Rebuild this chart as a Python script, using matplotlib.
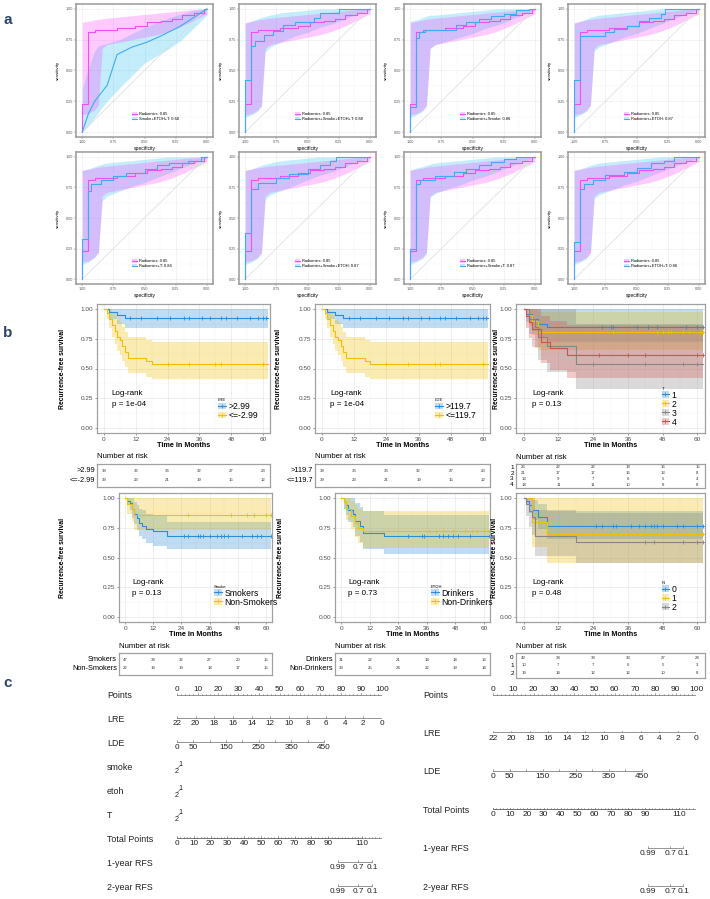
import numpy as np
import matplotlib.pyplot as plt
from matplotlib.patches import Patch
from matplotlib.lines import Line2D

plt.rcParams['font.family'] = ['Liberation Sans', 'DejaVu Sans']

W, H = 710, 899

# ---------------- panel a : ROC data (specificity, sensitivity) ----------------
band_spec = [1.00, 0.95, 0.90, 0.87, 0.84, 0.80, 0.70, 0.60, 0.50, 0.40, 0.30, 0.20, 0.10, 0.00]

rad_name = "Radiomics: 0.85"
rad_curve = [(1.0, 0.0), (0.955, 0.23), (0.90, 0.81), (0.72, 0.83), (0.58, 0.845), (0.48, 0.865),
             (0.37, 0.89), (0.28, 0.90), (0.20, 0.92), (0.10, 0.95), (0.02, 0.97), (0.0, 1.0)]
rad_lo = [0.14, 0.15, 0.18, 0.22, 0.68, 0.71, 0.73, 0.75, 0.77, 0.79, 0.82, 0.86, 0.91, 0.96]
rad_hi = [0.89, 0.90, 0.91, 0.915, 0.92, 0.925, 0.935, 0.945, 0.955, 0.965, 0.975, 0.985, 0.995, 1.0]

cmp_names = ["Smoke+ETOH+T: 0.68", "Radiomics+Smoke+ETOH+T: 0.88", "Radiomics+Smoke: 0.86",
             "Radiomics+ETOH: 0.87", "Radiomics+T: 0.86", "Radiomics+Smoke+ETOH: 0.87",
             "Radiomics+Smoke+T: 0.87", "Radiomics+ETOH+T: 0.86"]
cmp_stepped = [False, True, True, True, True, True, True, True]

cmp1_curve = [(1.0, 0.0), (0.95, 0.15), (0.90, 0.25), (0.80, 0.38), (0.72, 0.63), (0.60, 0.69),
              (0.48, 0.73), (0.37, 0.78), (0.23, 0.85), (0.15, 0.90), (0.0, 1.0)]
cmp2_curve = [(1.0, 0.0), (0.955, 0.42), (0.92, 0.70), (0.85, 0.74), (0.78, 0.79), (0.70, 0.82),
              (0.60, 0.87), (0.45, 0.89), (0.40, 0.93), (0.25, 0.97), (0.0, 1.0)]
cmp3_curve = [(1.0, 0.0), (0.955, 0.20), (0.93, 0.76), (0.88, 0.81), (0.63, 0.83), (0.55, 0.87),
              (0.45, 0.89), (0.35, 0.92), (0.25, 0.94), (0.15, 0.96), (0.05, 0.99), (0.0, 1.0)]
cmp4_curve = [(1.0, 0.0), (0.955, 0.42), (0.75, 0.78), (0.68, 0.81), (0.58, 0.84), (0.48, 0.86),
              (0.40, 0.90), (0.30, 0.93), (0.27, 0.96), (0.0, 1.0)]
cmp5_curve = [(1.0, 0.0), (0.955, 0.33), (0.93, 0.72), (0.85, 0.78), (0.75, 0.81), (0.65, 0.84),
              (0.50, 0.87), (0.40, 0.90), (0.30, 0.93), (0.15, 0.95), (0.05, 0.97), (0.0, 1.0)]
cmp6_curve = [(1.0, 0.0), (0.955, 0.38), (0.90, 0.74), (0.75, 0.79), (0.65, 0.83), (0.50, 0.86),
              (0.40, 0.90), (0.32, 0.93), (0.27, 0.97), (0.0, 1.0)]
cmp7_curve = [(1.0, 0.0), (0.955, 0.25), (0.92, 0.78), (0.80, 0.81), (0.65, 0.84), (0.55, 0.88),
              (0.45, 0.90), (0.35, 0.93), (0.25, 0.96), (0.15, 0.98), (0.0, 1.0)]
cmp8_curve = [(1.0, 0.0), (0.955, 0.30), (0.92, 0.74), (0.85, 0.78), (0.75, 0.81), (0.60, 0.85),
              (0.50, 0.88), (0.38, 0.91), (0.28, 0.95), (0.20, 0.97), (0.0, 1.0)]

cmp1_lo = [0.00, 0.05, 0.12, 0.16, 0.20, 0.25, 0.36, 0.46, 0.56, 0.62, 0.68, 0.75, 0.85, 0.95]
cmp1_hi = [0.35, 0.52, 0.66, 0.70, 0.71, 0.72, 0.75, 0.80, 0.85, 0.89, 0.93, 0.96, 0.99, 1.00]
cmp2_lo = [0.12, 0.14, 0.17, 0.21, 0.65, 0.69, 0.74, 0.78, 0.81, 0.85, 0.88, 0.92, 0.96, 0.99]
cmp2_hi = [0.88, 0.90, 0.92, 0.93, 0.94, 0.95, 0.97, 0.98, 0.99, 1.0, 1.0, 1.0, 1.0, 1.0]
cmp3_lo = [0.12, 0.14, 0.17, 0.21, 0.68, 0.71, 0.74, 0.77, 0.80, 0.84, 0.87, 0.91, 0.95, 0.99]
cmp3_hi = [0.90, 0.91, 0.93, 0.94, 0.95, 0.95, 0.96, 0.97, 0.98, 0.99, 1.0, 1.0, 1.0, 1.0]
cmp4_lo = [0.12, 0.14, 0.17, 0.22, 0.66, 0.69, 0.73, 0.77, 0.80, 0.84, 0.88, 0.92, 0.96, 0.99]
cmp4_hi = [0.88, 0.90, 0.92, 0.93, 0.94, 0.95, 0.96, 0.97, 0.98, 0.99, 1.0, 1.0, 1.0, 1.0]
cmp5_lo = [0.12, 0.14, 0.18, 0.22, 0.64, 0.68, 0.72, 0.76, 0.79, 0.83, 0.87, 0.91, 0.95, 0.99]
cmp5_hi = [0.89, 0.90, 0.92, 0.93, 0.94, 0.95, 0.96, 0.97, 0.98, 0.99, 1.0, 1.0, 1.0, 1.0]
cmp6_lo = [0.12, 0.14, 0.17, 0.21, 0.65, 0.69, 0.73, 0.77, 0.81, 0.85, 0.88, 0.92, 0.96, 0.99]
cmp6_hi = [0.89, 0.90, 0.92, 0.93, 0.94, 0.95, 0.97, 0.98, 0.99, 1.0, 1.0, 1.0, 1.0, 1.0]
cmp7_lo = [0.12, 0.14, 0.17, 0.21, 0.67, 0.70, 0.74, 0.77, 0.81, 0.84, 0.88, 0.92, 0.96, 0.99]
cmp7_hi = [0.89, 0.91, 0.92, 0.93, 0.94, 0.95, 0.96, 0.97, 0.98, 0.99, 1.0, 1.0, 1.0, 1.0]
cmp8_lo = [0.12, 0.14, 0.17, 0.21, 0.66, 0.69, 0.73, 0.77, 0.80, 0.84, 0.88, 0.92, 0.96, 0.99]
cmp8_hi = [0.89, 0.90, 0.92, 0.93, 0.94, 0.95, 0.96, 0.97, 0.98, 0.99, 1.0, 1.0, 1.0, 1.0]

cmp_curves = [cmp1_curve, cmp2_curve, cmp3_curve, cmp4_curve, cmp5_curve, cmp6_curve, cmp7_curve, cmp8_curve]
cmp_los = [cmp1_lo, cmp2_lo, cmp3_lo, cmp4_lo, cmp5_lo, cmp6_lo, cmp7_lo, cmp8_lo]
cmp_his = [cmp1_hi, cmp2_hi, cmp3_hi, cmp4_hi, cmp5_hi, cmp6_hi, cmp7_hi, cmp8_hi]

# ---------------- panel b : Kaplan-Meier data ----------------
# each group: step times, survival, lower CI, upper CI, censor times
lre_hi = ([0, 2, 5, 8], [1.0, 0.974, 0.949, 0.923], [1.0, 0.92, 0.88, 0.84], [1, 1, 1, 1],
          [10, 14, 20, 25, 30, 32, 37, 40, 44, 46, 50, 55, 58, 60, 61])
lre_lo = ([0, 1, 2, 3, 4, 5, 6, 7, 8, 9, 16, 18],
          [1, .97, .92, .87, .82, .77, .74, .69, .64, .59, .56, .54],
          [1, .92, .84, .77, .71, .65, .61, .56, .51, .46, .43, .41],
          [1, 1, 1, .98, .95, .91, .89, .85, .81, .77, .74, .72],
          [24, 32, 42, 44, 60])
lde_hi = ([0, 2, 5, 8], [1.0, 0.974, 0.949, 0.923], [1.0, 0.92, 0.88, 0.84], [1, 1, 1, 1],
          [10, 14, 20, 25, 30, 32, 37, 40, 44, 46, 50, 55, 58, 60, 61])
lde_lo = ([0, 1, 2, 3, 4, 5, 6, 7, 8, 9, 16, 18],
          [1, .97, .92, .87, .82, .77, .74, .69, .64, .59, .56, .54],
          [1, .92, .84, .77, .71, .65, .61, .56, .51, .46, .43, .41],
          [1, 1, 1, .98, .95, .91, .89, .85, .81, .77, .74, .72],
          [24, 32, 42, 44, 60])
t1 = ([0, 1, 3, 5, 8], [1, .96, .92, .88, .85], [1, .89, .82, .76, .72], [1, 1, 1, 1, 1],
      [27, 30, 31, 39, 43, 46, 56, 60, 62])
t2 = ([0, 2, 3, 5], [1, .95, .90, .81], [1, .86, .78, .66], [1, 1, 1, .98],
      [31, 46, 48, 50, 51, 55, 57, 61, 62])
t3 = ([0, 2, 4, 5, 8, 18], [1, .92, .85, .77, .69, .54], [1, .79, .67, .57, .47, .33],
      [1, 1, 1, 1, 1, .88], [24, 42, 55, 60])
t4 = ([0, 1, 2, 3, 6, 9, 15], [1, .94, .89, .83, .72, .67, .61], [1, .84, .76, .68, .55, .49, .42],
      [1, 1, 1, 1, .94, .9, .87], [26, 36, 42, 60, 62])
smokers = ([0, 1, 2, 3, 4, 5, 6, 7, 9, 12, 18],
           [1, .98, .96, .91, .87, .83, .79, .77, .74, .72, .68],
           [1, .94, .90, .83, .78, .73, .68, .66, .62, .60, .57],
           [1, 1, 1, 1, .97, .94, .91, .90, .87, .85, .80],
           [25, 27, 31, 32, 33, 36, 39, 41, 42, 44, 50, 54, 56, 58, 62])
non_smokers = ([0, 1, 3, 4], [1, .95, .91, .86], [1, .87, .80, .73], [1, 1, 1, 1],
               [27, 45, 52, 55, 60, 62])
drinkers = ([0, 1, 2, 3, 5, 6, 8, 9, 18], [1, .97, .94, .90, .87, .81, .77, .71, .68],
            [1, .91, .86, .80, .76, .68, .63, .57, .53], [1, 1, 1, 1, 1, .96, .93, .89, .86],
            [28, 34, 35, 41, 43, 45, 47, 49, 54, 62])
non_drinkers = ([0, 1, 2, 4, 6, 7, 9], [1, .97, .91, .85, .79, .75, .72],
                [1, .91, .82, .74, .67, .62, .58], [1, 1, 1, .98, .94, .91, .89],
                [37, 40, 43, 47, 52, 55, 57, 60, 62])
n0 = ([0, 1, 2, 3, 5, 8], [1, .98, .94, .90, .84, .77], [1, .94, .88, .82, .74, .66],
      [1, 1, 1, .99, .95, .89], [25, 27, 31, 32, 37, 40, 42, 44, 45, 46, 48, 53, 55, 60, 62])
n1 = ([0, 3, 8], [1, .8, .70], [1, .59, .45], [1, 1, 1], [32, 41, 50, 57, 62])
n2 = ([0, 1, 2, 3, 4, 18], [1, .95, .89, .84, .68, .63], [1, .85, .76, .69, .51, .45],
      [1, 1, 1, 1, .9, .88], [42, 45, 55, 60, 62])

km_titles = ["LRE", "LDE", "T", "Smoke", "ETOH", "N"]
km_groups = [[lre_hi, lre_lo], [lde_hi, lde_lo], [t1, t2, t3, t4],
             [smokers, non_smokers], [drinkers, non_drinkers], [n0, n1, n2]]
km_labels = [[">2.99", "<=-2.99"], [">119.7", "<=119.7"], ["1", "2", "3", "4"],
             ["Smokers", "Non-Smokers"], ["Drinkers", "Non-Drinkers"], ["0", "1", "2"]]
km_pvals = ["p = 1e-04", "p = 1e-04", "p = 0.13", "p = 0.13", "p = 0.73", "p = 0.48"]

risk_times = [0, 12, 24, 36, 48, 60]
risk_lre = [[39, 36, 36, 32, 27, 23], [39, 23, 21, 19, 15, 12]]
risk_lde = [[39, 36, 36, 32, 27, 23], [39, 23, 21, 19, 15, 12]]
risk_t = [[26, 22, 22, 19, 16, 15], [21, 17, 17, 16, 13, 8], [13, 9, 7, 6, 5, 4], [18, 11, 11, 10, 8, 8]]
risk_smoke = [[47, 34, 32, 27, 20, 15], [22, 19, 19, 18, 17, 15]]
risk_etoh = [[31, 22, 21, 18, 14, 13], [33, 25, 24, 22, 19, 14]]
risk_n = [[49, 38, 38, 33, 27, 24], [10, 7, 7, 6, 5, 3], [19, 14, 12, 12, 10, 8]]
km_risk = [risk_lre, risk_lde, risk_t, risk_smoke, risk_etoh, risk_n]

# ---------------- panel c : nomogram scales ----------------
points_ticks = list(range(0, 101, 10))
lre_vals = list(range(22, -1, -2))
lde_vals = list(range(0, 451, 50))
lde_shown = [0, 50, 150, 250, 350, 450]
total_ticks = [0, 10, 20, 30, 40, 50, 60, 70, 80, 90, 110]
rfs_probs = ["0.99", "0.7", "0.1"]
rfs_total_left = [95.8, 107.7, 116.0]
rfs_total_right = [91.7, 104.7, 112.4]

# ---------------- drawing ----------------
fig = plt.figure(figsize=(W / 100, H / 100), dpi=100)


def box(l, t, r, b):
    return [l / W, 1 - b / H, (r - l) / W, (b - t) / H]


label_col = '#2E4566'
for txt, y in [('a', 20), ('b', 333), ('c', 683)]:
    fig.text(8 / W, 1 - y / H, txt, fontsize=11, fontweight='bold', color=label_col, ha='center', va='center')

# ---- ROC ----
roc_cols = [76, 239, 404, 568]
roc_rows = [(4, 137), (152, 284)]
mag, mag_f = '#F050F0', '#FF40FF'
cy, cy_f = '#40AAF2', '#3CC4F5'
a_mag, a_cy = 0.27, 0.30
for k in range(8):
    r, c = divmod(k, 4)
    ax = fig.add_axes(box(roc_cols[c], roc_rows[r][0], roc_cols[c] + 137, roc_rows[r][1]))
    ax.fill_between(band_spec, cmp_los[k], cmp_his[k], color=cy_f, alpha=a_cy, lw=0)
    ax.fill_between(band_spec, rad_lo, rad_hi, color=mag_f, alpha=a_mag, lw=0)
    ax.plot([1, 0], [0, 1], color='#DCDCDC', lw=0.5)
    rs, rv = zip(*rad_curve)
    ax.plot(rs, rv, drawstyle='steps-pre', color=mag, lw=0.8)
    cs, cv = zip(*cmp_curves[k])
    ax.plot(cs, cv, drawstyle='steps-pre' if cmp_stepped[k] else 'default', color=cy, lw=0.8)
    ax.set_xlim(1.05, -0.05)
    ax.set_ylim(-0.04, 1.04)
    ticks = [1.0, 0.75, 0.5, 0.25, 0.0]
    ax.set_xticks(ticks)
    ax.set_xticklabels(['%.2f' % t for t in ticks])
    ax.set_yticks(ticks)
    ax.set_yticklabels(['%.2f' % t for t in ticks])
    ax.set_xticks([0.875, 0.625, 0.375, 0.125], minor=True)
    ax.set_yticks([0.875, 0.625, 0.375, 0.125], minor=True)
    ax.grid(which='major', color='#EBEBEB', lw=0.4)
    ax.grid(which='minor', color='#F4F4F4', lw=0.3)
    ax.set_axisbelow(True)
    ax.tick_params(labelsize=2.7, length=1.2, width=0.3, pad=1, colors='#555555')
    ax.tick_params(which='minor', length=0)
    for s in ax.spines.values():
        s.set_color('#9A9A9A')
        s.set_linewidth(1.1)
    ax.text(0.5, -0.085, 'specificity', transform=ax.transAxes, ha='center', va='center', fontsize=3.6)
    ax.text(-0.13, 0.5, 'sensitivity', transform=ax.transAxes, ha='center', va='center',
            rotation=90, fontsize=3.2)
    hs = [(Patch(facecolor=mag_f, alpha=a_mag, lw=0), Line2D([], [], color=mag, lw=0.8)),
          (Patch(facecolor=cy_f, alpha=a_cy, lw=0), Line2D([], [], color=cy, lw=0.8))]
    ax.legend(hs, [rad_name, cmp_names[k]], loc='lower left', bbox_to_anchor=(0.41, 0.12),
              frameon=False, fontsize=2.9, handlelength=1.3, handleheight=0.9,
              handletextpad=0.4, labelspacing=0.15, borderpad=0, borderaxespad=0)

# ---- Kaplan-Meier ----
km_boxes = [(97, 304, 270, 433), (315, 304, 490, 433), (516, 304, 705, 433),
            (119, 493, 272, 622), (335, 493, 490, 622), (516, 493, 705, 622)]
tab_boxes = [(97, 464, 270, 487), (315, 464, 490, 487), (516, 464, 705, 488),
             (119, 653, 272, 675), (335, 653, 490, 675), (516, 653, 705, 678)]
ylab_x = [62, 278, 496, 62, 280, 495]
leg_anchor = [(0.70, 0.10), (0.685, 0.10), (0.77, 0.05), (0.62, 0.12), (0.62, 0.12), (0.77, 0.08)]
pal = ['#2E8BD6', '#EFC000', '#868686', '#CD534C']
t_end = 62
xl = (-2.6, 62.6)

for i in range(6):
    l, t, rr, b = km_boxes[i]
    ax = fig.add_axes(box(l, t, rr, b))
    handles = []
    for g, grp in enumerate(km_groups[i]):
        times, surv, lo, hi, cens = grp
        col = pal[g]
        tx = list(times) + [t_end]
        ax.fill_between(tx, list(lo) + [lo[-1]], list(hi) + [hi[-1]], step='post',
                        color=col, alpha=0.3, lw=0)
        ax.step(tx, list(surv) + [surv[-1]], where='post', color=col, lw=0.8)
        idx = np.searchsorted(times, cens, side='right') - 1
        ax.plot(cens, np.array(surv)[idx], '+', color=col, ms=2.6, mew=0.6)
        handles.append((Patch(facecolor=col, alpha=0.3, lw=0),
                        Line2D([], [], color=col, lw=0.8, marker='+', ms=3, mew=0.6)))
    ax.set_xlim(*xl)
    ax.set_ylim(-0.045, 1.045)
    ax.set_xticks(risk_times)
    ax.set_yticks([0, 0.25, 0.5, 0.75, 1.0])
    ax.set_yticklabels(['0.00', '0.25', '0.50', '0.75', '1.00'])
    ax.set_xticks([6, 18, 30, 42, 54], minor=True)
    ax.set_yticks([0.125, 0.375, 0.625, 0.875], minor=True)
    ax.grid(which='major', color='#E6E6E6', lw=0.45)
    ax.grid(which='minor', color='#F2F2F2', lw=0.3)
    ax.set_axisbelow(True)
    ax.tick_params(labelsize=4.6, length=1.5, width=0.4, pad=1.2, colors='#4D4D4D')
    ax.tick_params(which='minor', length=0)
    for s in ax.spines.values():
        s.set_color('#A0A0A0')
        s.set_linewidth(0.9)
    hgt = b - t
    ax.text(0.5, -(13) / hgt, 'Time in Months', transform=ax.transAxes, ha='center', va='center',
            fontsize=5.2, fontweight='bold')
    ax.text((ylab_x[i] - l) / (rr - l), 0.5, 'Recurrence-free survival', transform=ax.transAxes,
            ha='center', va='center', rotation=90, fontsize=4.9, fontweight='bold')
    ax.text(3, 0.29, 'Log-rank', ha='left', va='center', fontsize=5.8)
    ax.text(3, 0.20, km_pvals[i], ha='left', va='center', fontsize=5.8)
    ax.legend(handles, km_labels[i], title=km_titles[i], loc='lower left',
              bbox_to_anchor=leg_anchor[i], frameon=False, fontsize=6.2, title_fontsize=3,
              handlelength=0.9, handleheight=0.8, handletextpad=0.3, labelspacing=0.0,
              borderpad=0, borderaxespad=0, alignment='left')

    # risk table
    l2, t2_, r2, b2 = tab_boxes[i]
    at = fig.add_axes(box(l2, t2_, r2, b2))
    rows = km_risk[i]
    n = len(rows)
    pad = 0.75 if n == 2 else 0.6
    at.set_xlim(*xl)
    at.set_ylim(n - 1 + pad, -pad)
    at.set_xticks([])
    at.set_yticks([])
    for s in at.spines.values():
        s.set_color('#A0A0A0')
        s.set_linewidth(0.9)
    for j, vals in enumerate(rows):
        for tt, v in zip(risk_times, vals):
            at.text(tt, j, str(v), ha='center', va='center', fontsize=3.1, color='#333333')
        at.text(-0.012, j, km_labels[i][j], transform=at.get_yaxis_transform(), ha='right',
                va='center', fontsize=5.3 if n == 2 else 4.6)
    at.text(0, 1 + 7 / (b2 - t2_), 'Number at risk', transform=at.transAxes, ha='left',
            va='center', fontsize=5.6)

# ---- nomograms ----
ln_col = '#6A6A6A'
txt_col = '#222222'


def nomogram(px0, px100, rows, sp, lde_max, tot_max, rfs_pos, num_fs):
    y0 = 695
    ax = fig.add_axes(box(px0, 680, px100, 899))
    ax.set_xlim(0, 100)
    ax.set_ylim((899 - y0) / sp, (680 - y0) / sp)
    ax.axis('off')
    lab_x = (107 if px0 < 300 else 423) - px0
    lab_x = lab_x / (px100 - px0) * 100
    d = 1.0 / sp
    for r, name in enumerate(rows):
        ax.text(lab_x, r, name, ha='left', va='center', fontsize=6.4, color=txt_col, clip_on=False)
        if name == 'Points':
            ax.plot([0, 100], [r, r], color=ln_col, lw=0.5)
            for v in np.arange(0, 101, 2):
                ax.plot([v, v], [r, r - (1.6 if v % 10 == 0 else 0.9) * d], color=ln_col, lw=0.4)
            for v in points_ticks:
                ax.text(v, r - 2 * d, str(v), ha='center', va='bottom', fontsize=num_fs, color=txt_col)
            continue
        yl = r - 1.0 * d
        if name == 'LRE':
            xs = [(22 - v) / 22 * 100 for v in lre_vals]
            labs = [str(v) for v in lre_vals]
        elif name == 'LDE':
            xs = [v / 450 * lde_max for v in lde_vals]
            labs = [str(v) if v in lde_shown else '' for v in lde_vals]
        elif name == 'Total Points':
            xs = [v / tot_max * 100 for v in total_ticks]
            labs = [str(v) for v in total_ticks]
            ax.plot([0, 100], [yl, yl], color=ln_col, lw=0.5)
            for v in np.arange(0, tot_max + 0.1, 2):
                ax.plot([v / tot_max * 100] * 2, [yl, yl - 0.9 * d], color=ln_col, lw=0.4)
        elif 'RFS' in name:
            xs = [v / tot_max * 100 for v in rfs_pos]
            labs = rfs_probs
        else:
            ax.plot([0, 1.8], [r + 1.5 * d, r - 1.5 * d], color=ln_col, lw=0.4)
            ax.text(1.8, r - 2.5 * d, '1', ha='center', va='center', fontsize=5.2, color=txt_col)
            ax.text(0, r + 4.5 * d, '2', ha='center', va='center', fontsize=5.2, color=txt_col)
            continue
        ax.plot([min(xs), max(xs)], [yl, yl], color=ln_col, lw=0.5)
        for x in xs:
            ax.plot([x, x], [yl, yl - 1.6 * d], color=ln_col, lw=0.4)
        for x, s in zip(xs, labs):
            if s:
                ax.text(x, r + 1.2 * d, s, ha='center', va='top', fontsize=num_fs, color=txt_col)


nomogram(177, 382, ['Points', 'LRE', 'LDE', 'smoke', 'etoh', 'T', 'Total Points',
                    '1-year RFS', '2-year RFS'], 24.0, 71.7, 122.0, rfs_total_left, 5.9)
nomogram(493, 696, ['Points', 'LRE', 'LDE', 'Total Points', '1-year RFS', '2-year RFS'],
         38.4, 73.4, 120.0, rfs_total_right, 6.0)

fig.savefig('out.png', dpi=100)
